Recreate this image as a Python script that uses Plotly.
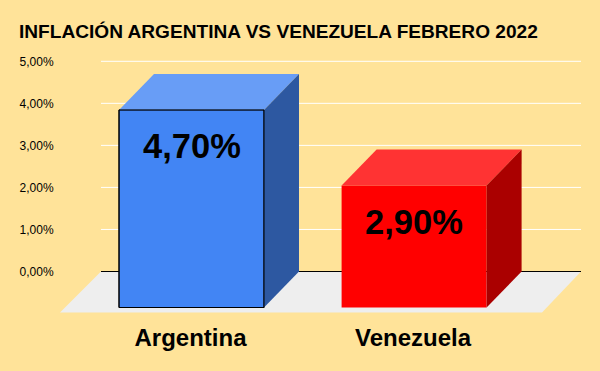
import plotly.graph_objects as go

TITLE = "INFLACIÓN ARGENTINA VS VENEZUELA FEBRERO 2022"
categories = ["Argentina", "Venezuela"]
values = [4.70, 2.90]
value_labels = ["4,70%", "2,90%"]
tick_values = [0, 1, 2, 3, 4, 5]
tick_labels = ["0,00%", "1,00%", "2,00%", "3,00%", "4,00%", "5,00%"]

front_colors = ["#4285F4", "#FF0000"]
top_colors = ["#689DF6", "#FF3333"]
side_colors = ["#2D58A1", "#AA0000"]
outline_colors = ["#000000", "#FF0000"]
outline_widths = [1, 0]
BG = "#FFE399"
FONT = "Liberation Sans"

W, H = 600, 371
L, R, T, B = 60, 581, 50, 316
PX_X = 222.6
PX_Y = 42.04
X0_PX = 191.5
Y0_PX = 271.5
x_range = [(L - X0_PX) / PX_X, (R - X0_PX) / PX_X]
y_range = [(Y0_PX - B) / PX_Y, (Y0_PX - T) / PX_Y]
bar_w = 145 / PX_X
dx = 35 / PX_X
dy = 36 / PX_Y

grid_x0 = (101 - X0_PX) / PX_X
grid_x1 = x_range[1]
floor_front_l = x_range[0]
floor_front_r = (542 - X0_PX) / PX_X
floor_y = (Y0_PX - 312.5) / PX_Y

fig = go.Figure()
xs = list(range(len(categories)))
label_xs = [x - 1 / PX_X for x in xs]

fig.add_trace(go.Bar(
    x=xs, y=values, base=[-dy] * len(values), width=bar_w,
    marker=dict(color=front_colors, line=dict(color=outline_colors, width=outline_widths)),
    hoverinfo="skip", showlegend=False,
))

for i, v in enumerate(values):
    xl, xr = i - bar_w / 2, i + bar_w / 2
    fig.add_trace(go.Scatter(
        x=[xl, xr, xr + dx, xl + dx, xl], y=[v - dy, v - dy, v, v, v - dy],
        mode="lines", fill="toself", fillcolor=top_colors[i], line=dict(width=0),
        hoverinfo="skip", showlegend=False,
    ))
    fig.add_trace(go.Scatter(
        x=[xr, xr + dx, xr + dx, xr, xr], y=[-dy, 0, v, v - dy, -dy],
        mode="lines", fill="toself", fillcolor=side_colors[i], line=dict(width=0),
        hoverinfo="skip", showlegend=False,
    ))
    if outline_widths[i]:
        fig.add_trace(go.Scatter(
            x=[xl, xr, xr, xl, xl], y=[v - dy, v - dy, -dy, -dy, v - dy],
            mode="lines", line=dict(color=outline_colors[i], width=outline_widths[i]),
            hoverinfo="skip", showlegend=False,
        ))
    fig.add_annotation(
        x=i, y=v - dy, text=value_labels[i], showarrow=False, yanchor="top",
        yshift=-15, font=dict(family=FONT, size=34.5, color="#000000", weight="bold"),
    )

shapes = [dict(
    type="path", layer="below", xref="x", yref="y", line=dict(width=0), fillcolor="#EEEEEE",
    path=f"M {grid_x0} 0 L {grid_x1} 0 L {floor_front_r} {floor_y} L {floor_front_l} {floor_y} Z",
)]
for t in tick_values:
    shapes.append(dict(
        type="line", layer="below", xref="x", yref="y", x0=grid_x0, x1=grid_x1, y0=t, y1=t,
        line=dict(color="#000000" if t == 0 else "#FFFFFF", width=1),
    ))

fig.update_layout(
    width=W, height=H,
    margin=dict(l=L, r=W - R, t=T, b=H - B, pad=0, autoexpand=False),
    paper_bgcolor=BG, plot_bgcolor=BG,
    title=dict(text=TITLE, x=19 / W, xanchor="left", xref="container",
               y=(H - 31) / H, yanchor="middle", yref="container",
               font=dict(family=FONT, size=19.1, color="#000000", weight="bold")),
    shapes=shapes,
    showlegend=False,
    xaxis=dict(range=x_range, tickmode="array", tickvals=label_xs, ticktext=categories,
               showgrid=False, zeroline=False, showline=False, ticks="outside", ticklen=0,
               tickcolor="rgba(0,0,0,0)",
               tickfont=dict(family=FONT, size=24, color="#000000", weight="bold")),
    yaxis=dict(range=y_range, tickmode="array", tickvals=tick_values, ticktext=tick_labels,
               showgrid=False, zeroline=False, showline=False, ticks="outside", ticklen=3,
               tickcolor="rgba(0,0,0,0)",
               tickfont=dict(family=FONT, size=12, color="#000000")),
)

fig.write_html("out.html", config=dict(displayModeBar=False),
               post_script="document.body.style.margin='0';")
